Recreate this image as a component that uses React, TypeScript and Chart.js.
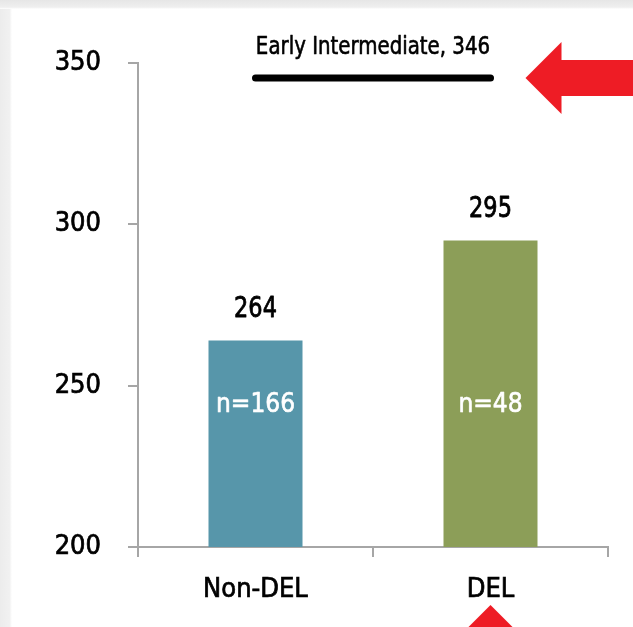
import React, { useEffect, useRef } from "react";
import { Chart, registerables } from "chart.js";

Chart.register(...registerables);

const categories = ["Non-DEL", "DEL"];
const scores = [264, 295];
const sampleSizes = ["n=166", "n=48"];
const barColors = ["#5796aa", "#8c9e58"];
const benchmarkLabel = "Early Intermediate";
const benchmarkValue = 346;
const yTicks = [200, 250, 300, 350];
const nLabelValue = 244;

const FONT = "'DejaVu Sans Condensed', 'Liberation Sans Narrow', 'Arial Narrow', sans-serif";
const AXIS_GRAY = "#a6a6a6";
const RED = "#ee1c25";

function condensedText(ctx: CanvasRenderingContext2D, text: string, x: number, y: number, sx: number, stroke: number) {
  ctx.save();
  ctx.translate(x, y);
  ctx.scale(sx, 1);
  if (stroke > 0) {
    ctx.lineWidth = stroke;
    ctx.strokeStyle = ctx.fillStyle as string;
    ctx.lineJoin = "round";
    ctx.strokeText(text, 0, 0);
  }
  ctx.fillText(text, 0, 0);
  ctx.restore();
}

const decor = {
  id: "decor",
  beforeDraw(chart: any) {
    const ctx = chart.ctx;
    const w = chart.width;
    const h = chart.height;
    ctx.save();
    ctx.fillStyle = "#ffffff";
    ctx.fillRect(0, 0, w, h);
    const gl = ctx.createLinearGradient(0, 0, 12, 0);
    gl.addColorStop(0, "#ececec");
    gl.addColorStop(0.8, "#f1f1f1");
    gl.addColorStop(1, "#ffffff");
    ctx.fillStyle = gl;
    ctx.fillRect(0, 0, 12, h);
    const gt = ctx.createLinearGradient(0, 0, 0, 9);
    gt.addColorStop(0, "#e6e6e6");
    gt.addColorStop(0.8, "#efefef");
    gt.addColorStop(1, "#ffffff");
    ctx.fillStyle = gt;
    ctx.fillRect(0, 0, w, 9);
    ctx.restore();
  },
  afterDatasetsDraw(chart: any) {
    const ctx = chart.ctx;
    const meta = chart.getDatasetMeta(0);
    const ys = chart.scales.y;
    ctx.save();
    ctx.textAlign = "center";
    // value labels
    ctx.font = `29px ${FONT}`;
    ctx.fillStyle = "#000000";
    ctx.textBaseline = "alphabetic";
    meta.data.forEach((bar: any, i: number) => {
      condensedText(ctx, String(scores[i]), bar.x, bar.y - 23, 0.86, 0.8);
    });
    // n labels
    ctx.font = `26px ${FONT}`;
    ctx.fillStyle = "#ffffff";
    ctx.textBaseline = "middle";
    meta.data.forEach((bar: any, i: number) => {
      condensedText(ctx, sampleSizes[i], bar.x, ys.getPixelForValue(nLabelValue), 1.0, 0.6);
    });
    // benchmark line
    const ly = ys.getPixelForValue(benchmarkValue) + 2;
    const x0 = meta.data[0].x;
    const x1 = meta.data[1].x;
    ctx.strokeStyle = "#000";
    ctx.lineWidth = 7;
    ctx.lineCap = "round";
    ctx.beginPath();
    ctx.moveTo(x0, ly);
    ctx.lineTo(x1, ly);
    ctx.stroke();
    ctx.font = `25px ${FONT}`;
    ctx.fillStyle = "#000000";
    ctx.textBaseline = "alphabetic";
    condensedText(ctx, `${benchmarkLabel}, ${benchmarkValue}`, (x0 + x1) / 2, ly - 24, 0.88, 0.6);
    // red arrow pointing left
    const tip = x1 + 35;
    const headBase = tip + 36;
    ctx.fillStyle = RED;
    ctx.beginPath();
    ctx.moveTo(tip, ly);
    ctx.lineTo(headBase, ly - 36);
    ctx.lineTo(headBase, ly - 18);
    ctx.lineTo(chart.width + 2, ly - 18);
    ctx.lineTo(chart.width + 2, ly + 18);
    ctx.lineTo(headBase, ly + 18);
    ctx.lineTo(headBase, ly + 36);
    ctx.closePath();
    ctx.fill();
    // red triangle under DEL
    const ty = chart.height - 22;
    ctx.beginPath();
    ctx.moveTo(x1, ty);
    ctx.lineTo(x1 + 24, ty + 24);
    ctx.lineTo(x1 - 24, ty + 24);
    ctx.closePath();
    ctx.fill();
    ctx.restore();
  },
};

export default function App() {
  const ref = useRef<HTMLCanvasElement | null>(null);
  useEffect(() => {
    if (!ref.current) return;
    const chart = new Chart(ref.current, {
      type: "bar",
      data: {
        labels: categories,
        datasets: [
          {
            data: scores,
            backgroundColor: barColors,
            borderWidth: 0,
            categoryPercentage: 1,
            barPercentage: 0.4,
          },
        ],
      },
      options: {
        animation: false,
        responsive: false,
        devicePixelRatio: 1,
        layout: { padding: { top: 63, right: 25, bottom: 0, left: 0 } },
        plugins: {
          legend: { display: false },
          tooltip: { enabled: false },
        },
        scales: {
          x: {
            grid: {
              display: true,
              drawOnChartArea: false,
              drawTicks: true,
              tickLength: 10,
              color: AXIS_GRAY,
              lineWidth: 2,
              offset: true,
            },
            border: { display: true, color: AXIS_GRAY, width: 2 },
            ticks: {
              color: "#000",
              font: { family: FONT, size: 27 },
              padding: 17,
              textStrokeColor: "#000",
              textStrokeWidth: 0.7,
            },
            afterFit: (s: any) => {
              s.height = 80;
            },
          },
          y: {
            min: 200,
            max: 350,
            afterBuildTicks: (s: any) => {
              s.ticks = yTicks.map((v) => ({ value: v }));
            },
            grid: {
              drawOnChartArea: false,
              drawTicks: true,
              tickLength: 10,
              color: AXIS_GRAY,
              lineWidth: 2,
            },
            border: { display: true, color: AXIS_GRAY, width: 2 },
            ticks: {
              color: "#000",
              font: { family: FONT, size: 27 },
              padding: 27,
              textStrokeColor: "#000",
              textStrokeWidth: 0.7,
            },
            afterFit: (s: any) => {
              s.width = 138;
            },
          },
        },
      },
      plugins: [decor],
    });
    return () => chart.destroy();
  }, []);
  return (
    <div style={{ position: "absolute", left: 0, top: 0, width: 633, height: 627 }}>
      <canvas ref={ref} width={633} height={627} style={{ display: "block" }} />
    </div>
  );
}
